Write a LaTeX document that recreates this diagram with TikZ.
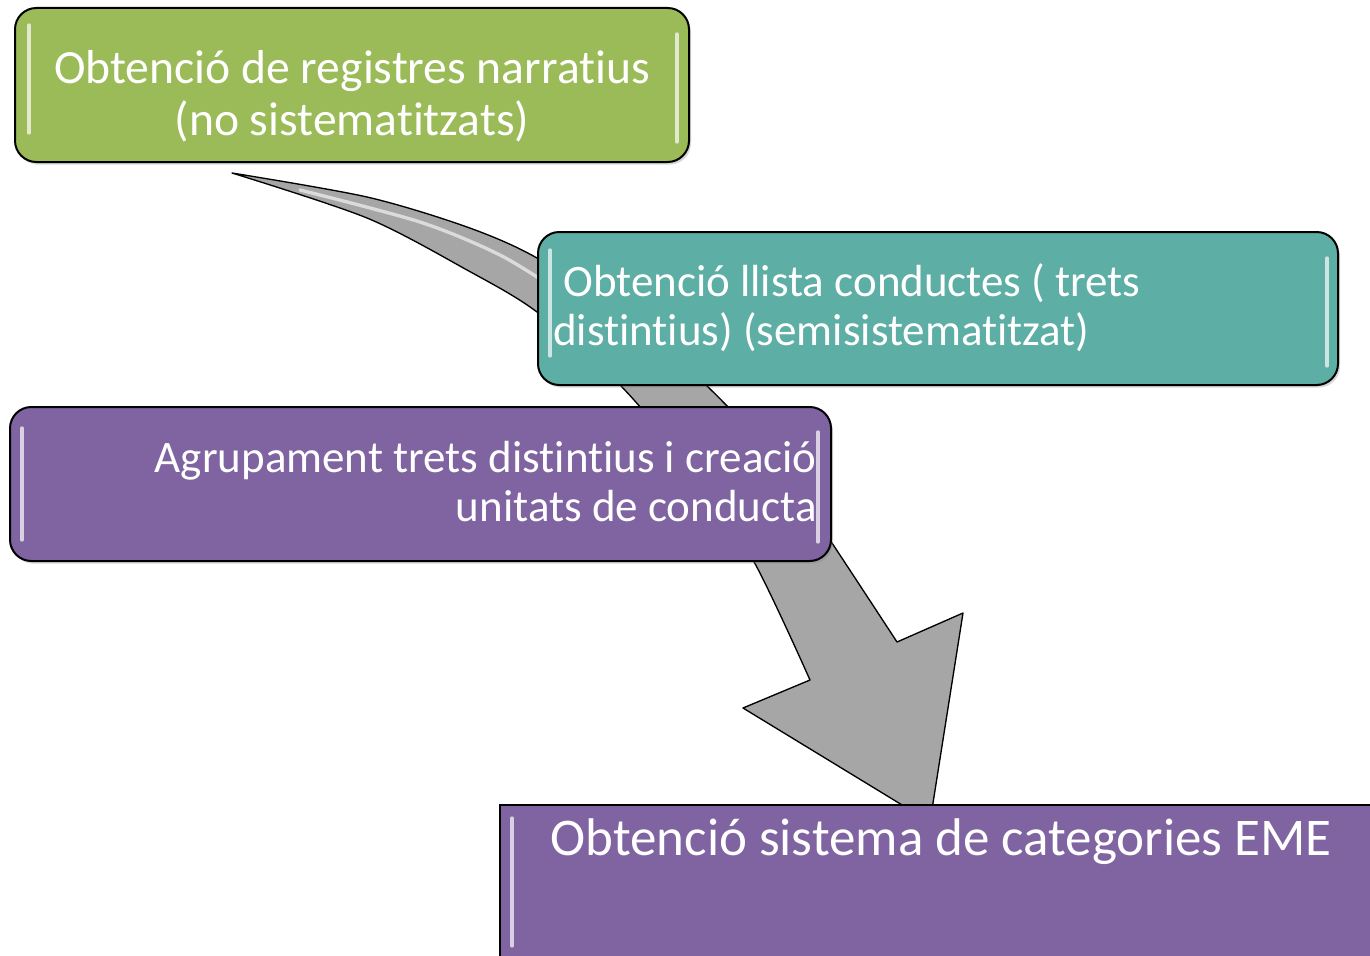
\documentclass[tikz,border=0pt]{standalone}
\usepackage{fontspec}
\setmainfont{Carlito}[Ligatures=NoCommon]
\usetikzlibrary{shadows}
\definecolor{boxgreen}{HTML}{9BBB59}
\definecolor{boxteal}{HTML}{5DAEA4}
\definecolor{boxpurple}{HTML}{8064A2}
\definecolor{arrowgray}{HTML}{A6A6A6}
\begin{document}
\begin{tikzpicture}[x=0.75pt,y=-0.75pt,
  stepbox/.style={draw=black, line width=1.5pt, rounded corners=16pt, inner sep=0pt,
    drop shadow={shadow xshift=1.5pt, shadow yshift=-2pt, opacity=0.3}},
  flatbox/.style={draw=black, line width=1.5pt, inner sep=0pt},
  boxtext/.style={text=white, inner sep=0pt},
  gloss/.style={white, opacity=0.7, line width=2.5pt, line cap=round},
  bigarrow/.style={fill=arrowgray, draw=black, line width=1pt, line join=round}]
\clip (0,0) rectangle (1370,956);
\fill[white] (0,0) rectangle (1370,956);

% curved arrow
\coordinate (tail) at (232,173);
\coordinate (tip) at (930,822);
\filldraw[bigarrow] plot[smooth] coordinates {(232,173) (367,197) (467,227) (537,258) (628,318) (706,385) (776,460) (830,540) (897,642)}
  -- (963,613) -- (tip) -- (743,708)
  -- plot[smooth] coordinates {(810,680) (753,560) (690,468) (620,385) (537,312) (467,270) (367,218) (232,173)} -- cycle;
\draw[white, opacity=0.6, line width=2.5pt, line cap=round] plot[smooth] coordinates {(300,190) (420,222) (500,255) (560,292)};

% boxes
\node[stepbox, fill=boxgreen, minimum width=505.5pt, minimum height=115.5pt] (b1) at (352,85) {};
\node[stepbox, fill=boxteal, minimum width=600pt, minimum height=114.75pt] (b2) at (938,308.5) {};
\node[stepbox, fill=boxpurple, minimum width=615.75pt, minimum height=115.5pt] (b3) at (420.5,484) {};
\node[flatbox, fill=boxpurple, minimum width=660pt, minimum height=127.5pt] (b4) at (940,890) {};

% gloss highlights
\draw[gloss] (29,25) -- (29,133);
\draw[gloss] (677,34) -- (677,142);
\draw[gloss] (550,250) -- (550,356);
\draw[gloss] (1327,258) -- (1327,366);
\draw[gloss] (22,428) -- (22,540);
\draw[gloss] (818,432) -- (818,542);
\draw[gloss] (512,818) -- (512,946);

% texts (base anchor = baseline of the last line)
\node[boxtext, font=\fontsize{35.7}{39}\selectfont, align=center, anchor=base] (t1) at (352,135)
  {Obtenció de registres narratius\\(no sistematitzats)};
\node[boxtext, font=\fontsize{33.75}{36.75}\selectfont, align=left, anchor=base west] (t2) at (553,345)
  {\hspace*{7.5pt}Obtenció llista conductes ( trets\\distintius) (semisistematitzat)};
\node[boxtext, font=\fontsize{33.75}{36.75}\selectfont, align=right, anchor=base east] (t3) at (817,521)
  {Agrupament trets distintius i creació\\unitats de conducta};
\node[boxtext, font=\fontsize{39.75}{43}\selectfont, anchor=base] (t4) at (941,855)
  {Obtenció sistema de categories EME};
\end{tikzpicture}
\end{document}
